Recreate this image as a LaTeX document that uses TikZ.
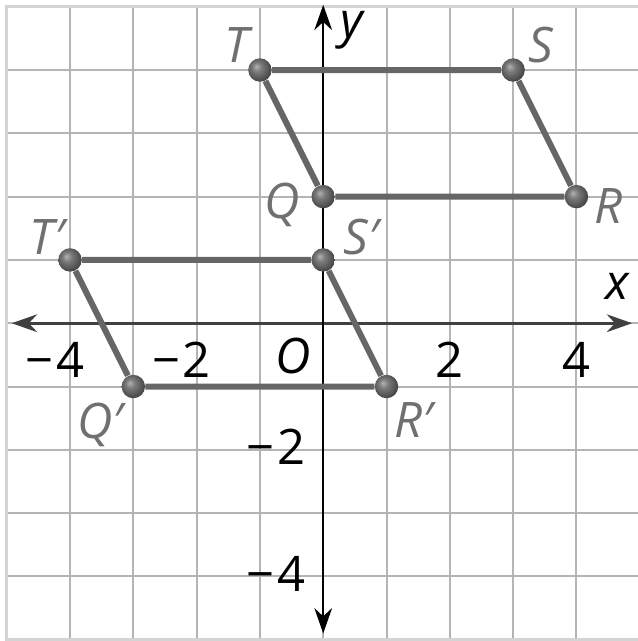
\documentclass[tikz,border=0pt]{standalone}
\usepackage{fontspec}
\setmainfont{Open Sans}
\usepackage{tikz}
\usetikzlibrary{arrows.meta}

\definecolor{gridgray}{HTML}{B4B4B4}
\definecolor{framegray}{HTML}{D4D4D4}
\definecolor{seggray}{HTML}{666666}
\definecolor{labelgray}{HTML}{707070}

\pgfdeclareradialshading{greyball}{\pgfpoint{-8bp}{8bp}}{%
  color(0bp)=(black!30); color(10bp)=(black!52); color(22bp)=(black!66);
  color(27bp)=(black!72); color(50bp)=(black!72)}

\tikzset{
  pt/.style={circle, inner sep=0pt, minimum size=3.7mm, shading=greyball},
  seg/.style={line width=2.7pt, draw=seggray},
  axis/.style={line width=1pt, {Stealth[length=4mm,width=2.8mm]}-{Stealth[length=4mm,width=2.8mm]}},
  vlabel/.style={text=labelgray, font=\fontsize{22}{24}\selectfont\itshape},
  ticklabel/.style={font=\fontsize{22}{24}\selectfont}
}

\begin{document}
\begin{tikzpicture}[every node/.style={inner sep=0pt}]
\useasboundingbox (-5.106,-5.02) rectangle (4.957,5.106);
\draw[gridgray, line width=0.9pt] (-5,-5) grid (5,5);
\draw[framegray, line width=1.6pt] (-5,-5) rectangle (5,5);

\coordinate (xl) at (-4.92,0);
\coordinate (xr) at (4.88,0);
\coordinate (yb) at (0,-4.9);
\coordinate (yt) at (0,5.03);
\draw[axis, draw=black!75, line width=1.3pt] (xl) -- (xr);
\draw[axis] (yb) -- (yt);

\node[pt] (T) at (-1,4) {};
\node[pt] (S) at (3,4) {};
\node[pt] (R) at (4,2) {};
\node[pt] (Q) at (0,2) {};
\node[pt] (Tp) at (-4,1) {};
\node[pt] (Sp) at (0,1) {};
\node[pt] (Rp) at (1,-1) {};
\node[pt] (Qp) at (-3,-1) {};

\draw[seg] (T) -- (S) -- (R) -- (Q) -- (T);
\draw[seg] (Tp) -- (Sp) -- (Rp) -- (Qp) -- (Tp);

\node[vlabel] (lT) at (-1.36,4.40) {T};
\node[vlabel] (lS) at (3.44,4.40) {S};
\node[vlabel] (lR) at (4.50,1.85) {R};
\node[vlabel] (lQ) at (-0.65,1.87) {Q};
\node[vlabel] (lTp) at (-4.36,1.36) {T′};
\node[vlabel] (lSp) at (0.60,1.36) {S′};
\node[vlabel] (lRp) at (1.43,-1.53) {R′};
\node[vlabel] (lQp) at (-3.52,-1.60) {Q′};

\node[ticklabel, font=\fontsize{22}{24}\selectfont\itshape] (lx) at (4.65,0.58) {x};
\node[ticklabel, font=\fontsize{22}{24}\selectfont\itshape] (ly) at (0.45,4.62) {y};
\node[ticklabel, font=\fontsize{22}{24}\selectfont\itshape] (lO) at (-0.48,-0.52) {O};

\node[ticklabel] (xm4) at (-4,-0.58) {\llap{−\kern1pt}4};
\node[ticklabel] (xm2) at (-2,-0.58) {\llap{−\kern1pt}2};
\node[ticklabel] (x2) at (2,-0.58) {2};
\node[ticklabel] (x4) at (4,-0.58) {4};
\node[ticklabel, anchor=east] (ym2) at (-0.28,-1.95) {−\kern1pt2};
\node[ticklabel, anchor=east] (ym4) at (-0.28,-3.96) {−\kern1pt4};
\end{tikzpicture}
\end{document}
